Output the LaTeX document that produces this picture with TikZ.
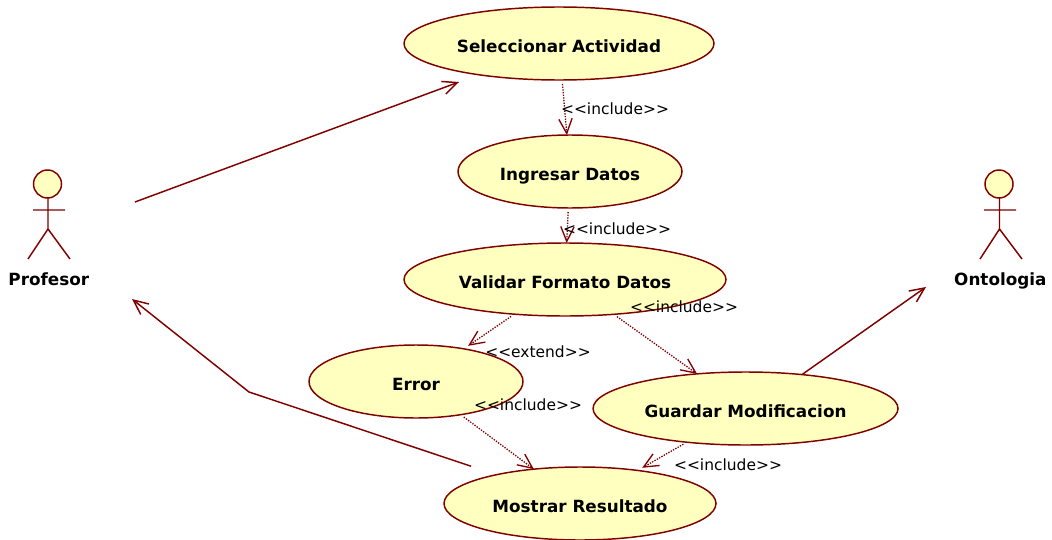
\documentclass[tikz,border=0pt]{standalone}
\usepackage{fontspec}
\setmainfont{DejaVu Sans}
\usetikzlibrary{arrows.meta,positioning,shapes.geometric}
\definecolor{umlline}{RGB}{128,0,0}
\definecolor{umlfill}{RGB}{255,255,192}
\tikzset{>={Straight Barb[length=11pt,width=10pt]},
    usecase/.style={ellipse, draw=umlline, fill=umlfill, line width=1.1pt, inner sep=0pt, outer sep=0pt,
                    minimum height=54.75pt, text height=12.8pt, text depth=0pt,
                    font=\fontsize{12.6pt}{14pt}\selectfont\bfseries},
    actorhead/.style={circle, draw=umlline, fill=umlfill, line width=1.1pt, inner sep=0pt, outer sep=0pt, minimum size=21pt},
    actorname/.style={font=\fontsize{12.6pt}{14pt}\selectfont\bfseries, inner sep=0pt},
    stick/.style={draw=umlline, line width=1.1pt},
    pil/.style={->, umlline, line width=1.1pt},
    incl/.style={->, umlline, line width=1pt, densely dotted, shorten <=3pt},
    stereo/.style={font=\fontsize{11.6pt}{14pt}\selectfont, inner sep=0pt}}
\begin{document}
\begin{tikzpicture}[x=0.75pt,y=-0.75pt]
    \useasboundingbox (0,0) rectangle (1052,539);
    % casos de uso
    \node[usecase, minimum width=232.5pt] (seleccionar) at (559,43.5) {Seleccionar Actividad};
    \node[usecase, minimum width=168pt, below=41.25pt of seleccionar, xshift=8.25pt]
        (ingresar) {Ingresar Datos};
    \node[usecase, minimum width=241.5pt, below=26.25pt of ingresar, xshift=-3.75pt]
        (validar) {Validar Formato Datos};
    \node[usecase, minimum width=160.5pt, below=21.75pt of validar, xshift=-111.75pt]
        (error) {Error};
    \node[usecase, minimum width=228.75pt, below=42pt of validar, xshift=135.4pt]
        (guardar) {Guardar Modificacion};
    \node[usecase, minimum width=204pt, below=36.75pt of error, xshift=123pt]
        (mostrar) {Mostrar Resultado};

    % actores
    \node[actorhead] (profesor) at (47.5,184) {};
    \node[actorname, below=56pt of profesor, xshift=1pt] (profesorname) {Profesor};
    \node[actorhead] (ontologia) at (999,184) {};
    \node[actorname, below=56pt of ontologia, xshift=1pt] (ontologianame) {Ontologia};
    \draw[stick] (profesor.south) ++(0.5,0) -- ++(0,31) coordinate (profesorhip)
        (33,210) -- (65,210)
        (28,259) -- (profesorhip) -- (70,259);
    \draw[stick] (ontologia.south) ++(0.5,0) -- ++(0,31) coordinate (ontologiahip)
        (984,210) -- (1016,210)
        (980,259) -- (ontologiahip) -- (1022,259);

    % extremos libres
    \coordinate (profesorout) at (135,202);
    \coordinate (profesorin) at (132,299);
    \coordinate (ontologiain) at (926,287);
    \coordinate (seleccionarin) at (459,82);
    \coordinate (codo) at (249,392);

    \draw[pil] (profesorout) -- (seleccionarin);
    \draw[pil, shorten <=20pt] (mostrar.161) -- (codo) -- (profesorin);
    \draw[pil] (guardar.31.5) -- (ontologiain);

    \draw[incl] (seleccionar) -- (ingresar);
    \draw[incl] (ingresar) -- (validar);
    \draw[incl, shorten >=4pt] (validar) -- (error);
    \draw[incl] (validar) -- (guardar);
    \draw[incl] (error) -- (mostrar);
    \draw[incl, shorten >=4pt] (guardar) -- (mostrar);

    % estereotipos
    \node[stereo] (inclingresar) at (615,109) {<{}<include>{}>};
    \node[stereo] (inclvalidar) at (617,229) {<{}<include>{}>};
    \node[stereo] (inclguardar) at (684,307) {<{}<include>{}>};
    \node[stereo] (exterror) at (538,352) {<{}<extend>{}>};
    \node[stereo] (inclerror) at (528,405) {<{}<include>{}>};
    \node[stereo] (inclmostrar) at (728,465) {<{}<include>{}>};
\end{tikzpicture}
\end{document}
